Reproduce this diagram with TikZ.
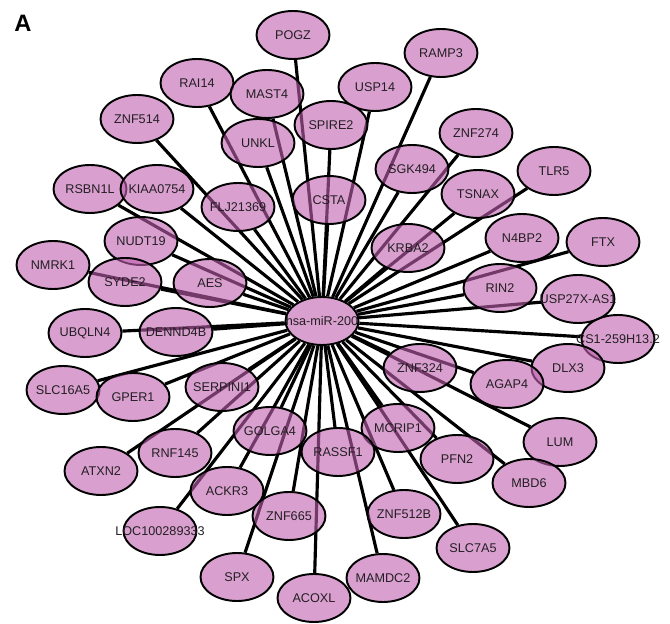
\documentclass[tikz,border=0pt]{standalone}
\usepackage{fontspec}
\setmainfont{Liberation Sans}
\usetikzlibrary{shapes.geometric,backgrounds}

\definecolor{genepink}{RGB}{192,97,175}
\definecolor{labelgrey}{RGB}{35,30,35}

\begin{document}
\begin{tikzpicture}[
  x=0.02cm, y=-0.02cm,
  gene/.style={
    ellipse,
    draw=black,
    line width=1.1pt,
    fill=genepink,
    fill opacity=0.6,
    text opacity=1,
    text=labelgrey,
    minimum width=1.46cm,
    minimum height=0.96cm,
    inner xsep=-1cm,
    inner ysep=0pt,
    font=\fontsize{7.2}{8}\selectfont
  },
  link/.style={line width=1.8pt, draw=black}
]
\useasboundingbox (0,0) rectangle (670,624);

% Panel letter
\node[font=\fontsize{13.5}{16}\selectfont\bfseries] (panel) at (23,23) {A};

% Target genes, top half
\node[gene] (pogz) at (293,35) {POGZ};
\node[gene] (ramp3) at (441,53) {RAMP3};
\node[gene] (rai14) at (197,83) {RAI14};
\node[gene] (usp14) at (375,87) {USP14};
\node[gene] (mast4) at (267,94) {MAST4};
\node[gene] (znf514) at (137,119) {ZNF514};
\node[gene] (spire2) at (331,125) {SPIRE2};
\node[gene] (znf274) at (476,133) {ZNF274};
\node[gene] (unkl) at (258,143) {UNKL};
\node[gene] (sgk494) at (412,169) {SGK494};
\node[gene] (tlr5) at (554,171) {TLR5};
\node[gene] (rsbn1l) at (90,189) {RSBN1L};
\node[gene] (kiaa) at (157,189) {KIAA0754};
\node[gene] (csta) at (329,200) {CSTA};
\node[gene] (tsnax) at (478,194) {TSNAX};
\node[gene] (flj) at (238,207) {FLJ21369};
\node[gene] (n4bp2) at (522,238) {N4BP2};
\node[gene] (ftx) at (603,242) {FTX};
\node[gene] (krba2) at (408,248) {KRBA2};
\node[gene] (nudt19) at (141,241) {NUDT19};
\node[gene] (nmrk1) at (53,265) {NMRK1};
\node[gene] (syde2) at (125,282) {SYDE2};
\node[gene] (aes) at (210,283) {AES};
\node[gene] (rin2) at (500,288) {RIN2};
\node[gene] (usp27x) at (578,299) {USP27X-AS1};

% Middle row
\node[gene] (ubqln4) at (85,333) {UBQLN4};
\node[gene] (dennd4b) at (176,332) {DENND4B};
\node[gene] (cs1) at (618,339) {CS1-259H13.2};

% Target genes, bottom half
\node[gene] (slc16a5) at (63,390) {SLC16A5};
\node[gene] (gper1) at (133,397) {GPER1};
\node[gene] (serpini1) at (222,387) {SERPINI1};
\node[gene] (dlx3) at (568,368) {DLX3};
\node[gene] (znf324) at (420,368) {ZNF324};
\node[gene] (agap4) at (507,384) {AGAP4};
\node[gene] (golga4) at (270,431) {GOLGA4};
\node[gene] (mcrip1) at (398,428) {MCRIP1};
\node[gene] (lum) at (560,442) {LUM};
\node[gene] (rassf1) at (338,452) {RASSF1};
\node[gene] (rnf145) at (175,453) {RNF145};
\node[gene] (pfn2) at (457,459) {PFN2};
\node[gene] (atxn2) at (101,471) {ATXN2};
\node[gene] (mbd6) at (529,483) {MBD6};
\node[gene] (ackr3) at (227,491) {ACKR3};
\node[gene] (znf665) at (289,516) {ZNF665};
\node[gene] (znf512b) at (404,514) {ZNF512B};
\node[gene] (loc) at (160,531) {LOC100289333};
\node[gene] (slc7a5) at (473,548) {SLC7A5};
\node[gene] (spx) at (237,577) {SPX};
\node[gene] (mamdc2) at (383,578) {MAMDC2};
\node[gene] (acoxl) at (314,598) {ACOXL};

% microRNA hub
\node[gene] (hub) at (322,321) {hsa-miR-200};

% Links behind the ellipses
\begin{scope}[on background layer]
\foreach \g in {pogz,ramp3,rai14,usp14,mast4,znf514,spire2,znf274,unkl,sgk494,
  tlr5,rsbn1l,kiaa,csta,tsnax,flj,n4bp2,ftx,krba2,nudt19,nmrk1,syde2,aes,rin2,
  usp27x,ubqln4,dennd4b,cs1,slc16a5,gper1,serpini1,dlx3,znf324,agap4,golga4,
  mcrip1,lum,rassf1,rnf145,pfn2,atxn2,mbd6,ackr3,znf665,znf512b,loc,slc7a5,
  spx,mamdc2,acoxl}
  \draw[link] (hub) -- (\g);
\end{scope}
\end{tikzpicture}
\end{document}
